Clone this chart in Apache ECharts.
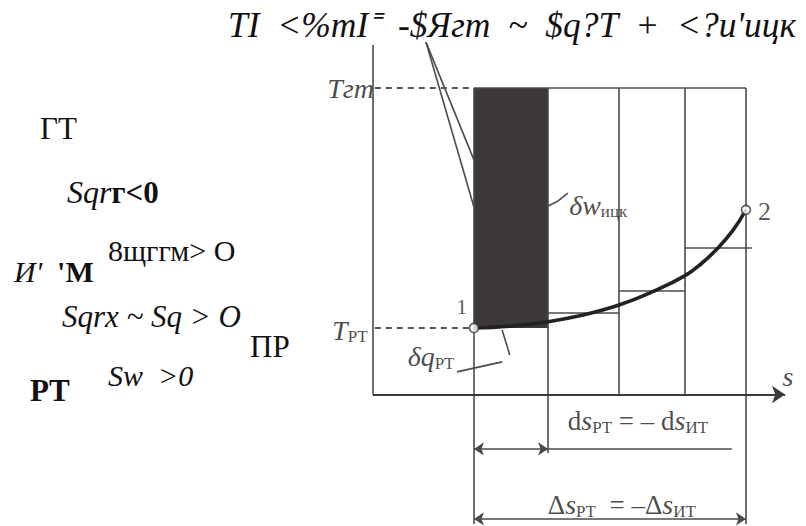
<!DOCTYPE html>
<html><head><meta charset="utf-8">
<script src="https://cdn.jsdelivr.net/npm/echarts@6/dist/echarts.min.js"></script>
<style>html,body{margin:0;padding:0;background:#fff}#c{width:806px;height:526px}</style>
</head><body><div id="c"></div>
<script>
// ---- data (s = entropy axis, T = temperature axis) ----
const gridS = [2.51, 4.35, 6.11, 7.75, 9.26];          // vertical lines of the diagram
const gridEndT = [-4.92, -2.22, 0, 0, -4.92];           // lower end of each vertical line
const T_GT = 11.65;                                     // T гт
const T_PT = 2.53;                                      // T PT
const curveS = [2.51, 3.40, 4.32, 5.22, 6.11, 6.93, 7.75, 8.17, 8.54, 8.94, 9.26];
const curveT = [2.53, 2.60, 2.76, 3.02, 3.40, 3.90, 4.52, 5.00, 5.53, 6.25, 7.02];
const stepStartS = [4.35, 6.11, 7.75];
const stepEndS = [6.11, 7.75, 9.41];
const stepT = [3.10, 3.94, 5.57];
const axisEndS = 10.23, axisTopT = 13.29;
const dimT = [-2.07, -4.73];

const titleText = "TI  <%mI\u207C  -$Ягт  ~  $q?T  +  <?u'uцк";

const LC = '#4b4b4b';
const chart = echarts.init(document.getElementById('c'), null, {renderer: 'svg', width: 806, height: 526});

const plain = [];
plain.push({coords: [[0, 0], [0, axisTopT]]});
plain.push({coords: [[gridS[0], T_GT], [gridS[4], T_GT]]});
gridS.forEach((s, i) => plain.push({coords: [[s, T_GT], [s, gridEndT[i]]]}));
stepT.forEach((t, i) => plain.push({coords: [[stepStartS[i], t], [stepEndS[i], t]]}));
// leader lines
plain.push({coords: [[1.32, 13.4], [2.51, 8.92]]});
plain.push({coords: [[1.32, 13.4], [2.51, 7.13]]});
plain.push({coords: [[2.09, 0.86], [3.21, 1.24]]});
plain.push({coords: [[3.21, 2.45], [3.40, 1.50]]});
plain.push({coords: [[4.35, 7.17], [4.60, 7.36]]});
plain.push({coords: [[4.60, 7.36], [4.84, 7.66]]});
plain.push({coords: [[gridS[1], dimT[0]], [8.91, dimT[0]]]});

const dashed = [
  {coords: [[0.05, T_GT], [gridS[0], T_GT]]},
  {coords: [[0.05, T_PT], [gridS[0], T_PT]]}
];

const serif = 'Liberation Serif';
const rich = {
  i: {fontFamily: serif, fontStyle: 'italic', fontSize: 28, lineHeight: 30, color: '#1a1a1a'},
  r: {fontFamily: serif, fontSize: 27, lineHeight: 30, color: '#1a1a1a'},
  sub: {fontFamily: serif, fontSize: 17, lineHeight: 16, verticalAlign: 'bottom', color: '#1a1a1a'},
  n: {fontFamily: serif, fontSize: 26, lineHeight: 30, color: '#333'},
  n1: {fontFamily: serif, fontSize: 22, lineHeight: 30, color: '#333'}
};

function lab(s, t, text, pos) {
  return {value: [s, t], label: {show: true, formatter: text, position: pos || 'inside', distance: 0, rich: rich}};
}
const labels = [
  lab(-0.55, 11.65, '{i|Tгт}'),
  lab(-0.57, 2.45, '{i|T}{sub|PT}'),
  lab(2.21, 3.33, '{n1|1}'),
  lab(9.72, 6.94, '{n|2}'),
  lab(10.3, 0.67, '{i|s}'),
  lab(4.86, 7.2, '{i|δw}{sub|ицк}', 'right'),
  lab(2.04, 1.43, '{i|δq}{sub|PT}', 'left'),
  lab(6.58, -1.0, '{r|d}{i|s}{sub|PT}{r| = – d}{i|s}{sub|ИТ}'),
  lab(6.18, -4.2, '{r|Δ}{i|s}{sub|PT}{r|  = –Δ}{i|s}{sub|ИТ}')
];

const R = (o) => Object.assign({fontFamily: serif, fill: '#111'}, o);
function T(x, y, text, size, style, weight) {
  return {type: 'text', left: x, top: y, style: R({text: text, fontSize: size, fontStyle: style || 'normal', fontWeight: weight || 'normal'})};
}

const option = {
  animation: false,
  backgroundColor: '#fff',
  grid: {left: 0, right: 0, top: 0, bottom: 0},
  xAxis: {type: 'value', min: -9.25, max: 10.75, show: false},
  yAxis: {type: 'value', min: -5, max: 15, show: false},
  graphic: [
    T(228, 7, titleText, 35.5, 'italic'),
    T(40, 113, 'ГТ', 31),
    {type: 'text', left: 67, top: 176, style: {text: '{a|Sqr}{b|г<0}', rich: {a: R({fontStyle: 'italic', fontSize: 32}), b: R({fontWeight: 'bold', fontSize: 31})}}},
    T(108, 235, '8щггм> O', 30),
    {type: 'text', left: 14, top: 256, style: {text: "{a|И'}{s|  }{b|'M}", rich: {a: R({fontStyle: 'italic', fontSize: 30}), s: R({fontSize: 30}), b: R({fontWeight: 'bold', fontSize: 30})}}},
    T(62, 301, 'Sqrx ~ Sq > O', 31, 'italic'),
    T(250, 331, 'ПР', 31),
    T(108, 360, 'Sw  >0', 30, 'italic'),
    T(30, 375, 'PT', 31, 'normal', 'bold')
  ],
  series: [
    {
      type: 'custom', z: 1,
      data: [[gridS[0], T_GT, gridS[1], T_PT]],
      renderItem: function (params, api) {
        const p1 = api.coord([api.value(0), api.value(1)]);
        const p2 = api.coord([api.value(2), api.value(3)]);
        return {type: 'rect', shape: {x: p1[0], y: p1[1], width: p2[0] - p1[0], height: p2[1] - p1[1]},
          style: {fill: '#3d3939'}};
      }
    },
    {type: 'lines', coordinateSystem: 'cartesian2d', z: 2, symbol: 'none',
      lineStyle: {color: LC, width: 1.6, opacity: 1}, data: plain},
    {type: 'lines', coordinateSystem: 'cartesian2d', z: 2, symbol: 'none',
      lineStyle: {color: '#555', width: 2, type: [6, 5], opacity: 1}, data: dashed},
    {type: 'lines', coordinateSystem: 'cartesian2d', z: 3, symbol: ['none', 'arrow'], symbolSize: 13,
      lineStyle: {color: '#3a3a3a', width: 2.2, opacity: 1}, data: [{coords: [[0, 0], [axisEndS, 0]]}]},
    {type: 'lines', coordinateSystem: 'cartesian2d', z: 3, symbol: ['arrow', 'arrow'], symbolSize: 10,
      lineStyle: {color: LC, width: 1.6, opacity: 1},
      data: [{coords: [[gridS[0], dimT[0]], [gridS[1], dimT[0]]]}, {coords: [[gridS[0], dimT[1]], [gridS[4], dimT[1]]]}]},
    {type: 'line', z: 4, smooth: 0.45, showSymbol: false, lineStyle: {color: '#222', width: 3.6},
      data: curveS.map((s, i) => [s, curveT[i]])},
    {type: 'scatter', z: 5, symbol: 'circle', symbolSize: 9,
      itemStyle: {color: '#fff', borderColor: '#333', borderWidth: 1.6},
      data: [[curveS[0], curveT[0]], [curveS[curveS.length - 1], curveT[curveT.length - 1]]]},
    {type: 'scatter', z: 6, symbolSize: 1, itemStyle: {color: 'rgba(0,0,0,0)'}, silent: true, data: labels}
  ]
};
chart.setOption(option);
</script>
</body></html>
